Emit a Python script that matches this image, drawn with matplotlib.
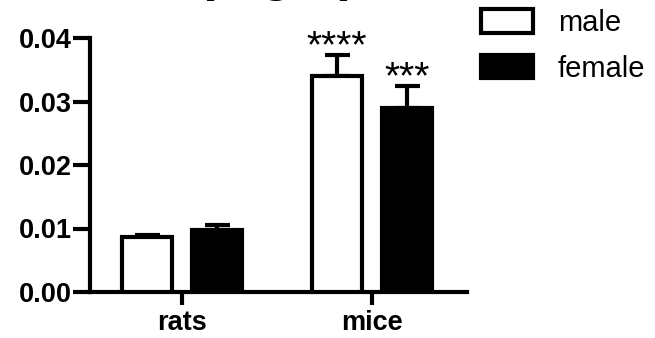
import numpy as np
import matplotlib.pyplot as plt
from matplotlib.patches import Patch

plt.rcParams['font.family'] = ['Liberation Sans', 'DejaVu Sans']

species = ['rats', 'mice']
male = [0.0087, 0.0340]
male_err = [0.0003, 0.0034]
female = [0.0097, 0.0289]
female_err = [0.0009, 0.0036]
male_sig = ['', '****']
female_sig = ['', '***']
yticks = [0.00, 0.01, 0.02, 0.03, 0.04]

fig = plt.figure(figsize=(6.55, 3.38), dpi=100)
ax = fig.add_axes([90 / 655, 46 / 338, 377 / 655, 254 / 338])

x = np.arange(len(species))
off = 0.184
w = 0.263
lw = 3

ax.bar(x - off, male, w, color='white', edgecolor='black', linewidth=lw, zorder=3)
ax.bar(x + off, female, w, color='black', edgecolor='black', linewidth=lw, zorder=3)

# upper half error bars only
for xs, vals, errs in [(x - off, male, male_err), (x + off, female, female_err)]:
    ax.errorbar(xs, vals, yerr=[np.zeros(len(errs)), errs], fmt='none',
                ecolor='black', elinewidth=lw, capsize=9, capthick=lw, zorder=2)

for xs, vals, errs, sig in [(x - off, male, male_err, male_sig),
                            (x + off, female, female_err, female_sig)]:
    for xi, v, e, s in zip(xs, vals, errs, sig):
        if s:
            ax.text(xi, v + e - 0.0005, s, ha='center', va='baseline', fontsize=28)

ax.set_xlim(-0.484, 1.5)
ax.set_ylim(0, 0.04)
ax.set_yticks(yticks)
ax.set_yticklabels(['%.2f' % t for t in yticks], fontsize=19.5, fontweight='bold')
ax.set_xticks(x)
ax.set_xticklabels(species, fontsize=19.5, fontweight='bold')
ax.tick_params(axis='y', length=12, width=lw, pad=1)
ax.tick_params(axis='x', length=9, width=lw, pad=4)

for side in ['top', 'right']:
    ax.spines[side].set_visible(False)
for side in ['left', 'bottom']:
    ax.spines[side].set_linewidth(lw)
    ax.spines[side].set_capstyle('projecting')

handles = [Patch(facecolor='white', edgecolor='black', linewidth=lw),
           Patch(facecolor='black', edgecolor='black', linewidth=lw)]
fig.legend(handles, ['male', 'female'], loc='upper left',
           bbox_to_anchor=(463 / 655, 1.025), frameon=False, fontsize=21,
           handlelength=1.8, handleheight=0.86, handletextpad=0.85,
           labelspacing=0.6, borderaxespad=0.2)

# title sits mostly above the top edge, only its descenders show
fig.text(277 / 655, 1.0 + 9.6 / 338, '(mg/L)', ha='center', va='baseline',
         fontsize=38, fontweight='bold')

fig.savefig('out.png', dpi=100)
